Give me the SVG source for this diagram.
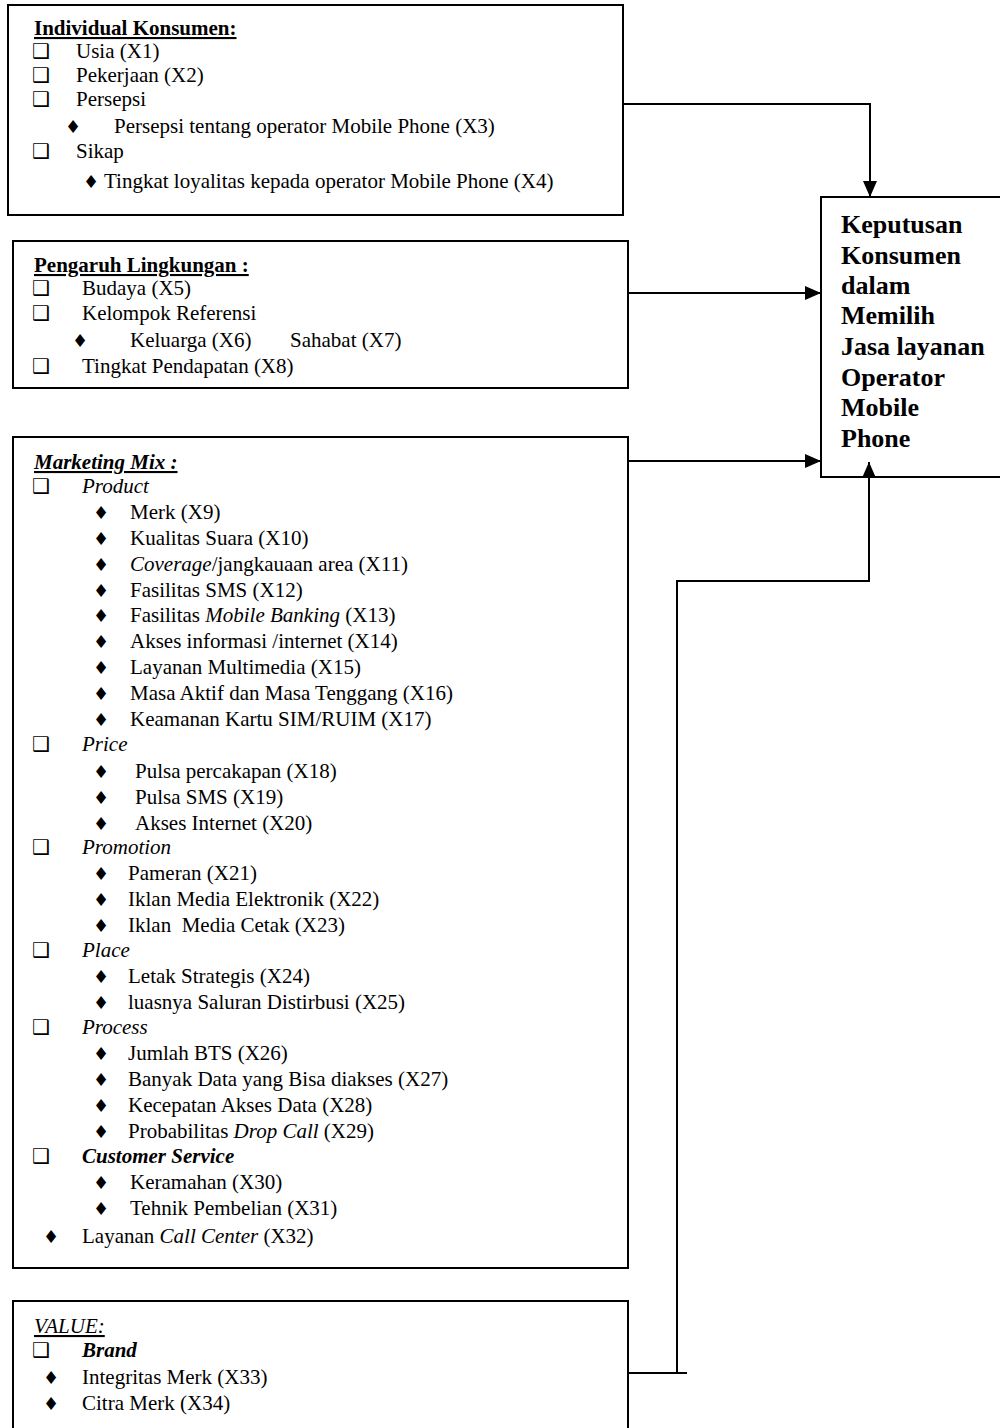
<svg xmlns="http://www.w3.org/2000/svg" width="1000" height="1428" viewBox="0 0 1000 1428">
<style>
.box{fill:#fff;stroke:#000;stroke-width:2}
.t{font-family:"Liberation Serif","Times New Roman",serif;font-size:21px;fill:#000}
.h{font-weight:bold;text-decoration:underline}
.i{font-style:italic}
.bi{font-style:italic;font-weight:bold}
.cb{font-family:"DejaVu Sans",sans-serif;font-size:20px;fill:#000}
.dm{font-family:"DejaVu Sans",sans-serif;font-size:18px;fill:#000}
.big{font-family:"Liberation Serif","Times New Roman",serif;font-size:26px;font-weight:bold;fill:#000}
.c{fill:none;stroke:#000;stroke-width:2}
</style>
<defs>
<marker id="ah" markerUnits="userSpaceOnUse" viewBox="0 0 16 14" markerWidth="16" markerHeight="14" refX="16" refY="7" orient="auto">
<path d="M0,0 L16,7 L0,14 z" fill="#000"/>
</marker>
</defs>

<g id="individual">
<rect class="box" x="8" y="5" width="615" height="210"/>
<text class="t h" x="34" y="35">Individual Konsumen:</text>
<text class="cb" x="32" y="58">❑</text><text class="t" x="76" y="58">Usia (X1)</text>
<text class="cb" x="32" y="82">❑</text><text class="t" x="76" y="82">Pekerjaan (X2)</text>
<text class="cb" x="32" y="106">❑</text><text class="t" x="76" y="106">Persepsi</text>
<text class="dm" x="65" y="133">♦</text><text class="t" x="114" y="133">Persepsi tentang operator Mobile Phone (X3)</text>
<text class="cb" x="32" y="158">❑</text><text class="t" x="76" y="158">Sikap</text>
<text class="dm" x="83" y="188">♦</text><text class="t" x="104" y="188">Tingkat loyalitas kepada operator Mobile Phone (X4)</text>
</g>

<g id="lingkungan">
<rect class="box" x="13" y="241" width="615" height="147"/>
<text class="t h" x="34" y="272">Pengaruh Lingkungan :</text>
<text class="cb" x="32" y="295">❑</text><text class="t" x="82" y="295">Budaya (X5)</text>
<text class="cb" x="32" y="320">❑</text><text class="t" x="82" y="320">Kelompok Referensi</text>
<text class="dm" x="72" y="347">♦</text><text class="t" x="130" y="347">Keluarga (X6)</text><text class="t" x="290" y="347">Sahabat (X7)</text>
<text class="cb" x="32" y="373">❑</text><text class="t" x="82" y="373">Tingkat Pendapatan (X8)</text>
</g>

<g id="marketing-mix">
<rect class="box" x="13" y="437" width="615" height="831"/>
<text class="t h bi" x="34" y="469">Marketing Mix :</text>
<text class="cb" x="32" y="493">❑</text><text class="t i" x="82" y="493">Product</text>
<text class="dm" x="93" y="519">♦</text><text class="t" x="130" y="519">Merk (X9)</text>
<text class="dm" x="93" y="545">♦</text><text class="t" x="130" y="545">Kualitas Suara (X10)</text>
<text class="dm" x="93" y="571">♦</text><text class="t" x="130" y="571"><tspan class="i">Coverage</tspan>/jangkauaan area (X11)</text>
<text class="dm" x="93" y="597">♦</text><text class="t" x="130" y="597">Fasilitas SMS (X12)</text>
<text class="dm" x="93" y="622">♦</text><text class="t" x="130" y="622">Fasilitas <tspan class="i">Mobile Banking</tspan> (X13)</text>
<text class="dm" x="93" y="648">♦</text><text class="t" x="130" y="648">Akses informasi /internet (X14)</text>
<text class="dm" x="93" y="674">♦</text><text class="t" x="130" y="674">Layanan Multimedia (X15)</text>
<text class="dm" x="93" y="700">♦</text><text class="t" x="130" y="700">Masa Aktif dan Masa Tenggang (X16)</text>
<text class="dm" x="93" y="726">♦</text><text class="t" x="130" y="726">Keamanan Kartu SIM/RUIM (X17)</text>
<text class="cb" x="32" y="751">❑</text><text class="t i" x="82" y="751">Price</text>
<text class="dm" x="93" y="778">♦</text><text class="t" x="135" y="778">Pulsa percakapan (X18)</text>
<text class="dm" x="93" y="804">♦</text><text class="t" x="135" y="804">Pulsa SMS (X19)</text>
<text class="dm" x="93" y="830">♦</text><text class="t" x="135" y="830">Akses Internet (X20)</text>
<text class="cb" x="32" y="854">❑</text><text class="t i" x="82" y="854">Promotion</text>
<text class="dm" x="93" y="880">♦</text><text class="t" x="128" y="880">Pameran (X21)</text>
<text class="dm" x="93" y="906">♦</text><text class="t" x="128" y="906">Iklan Media Elektronik (X22)</text>
<text class="dm" x="93" y="932">♦</text><text class="t" x="128" y="932" xml:space="preserve">Iklan  Media Cetak (X23)</text>
<text class="cb" x="32" y="957">❑</text><text class="t i" x="82" y="957">Place</text>
<text class="dm" x="93" y="983">♦</text><text class="t" x="128" y="983">Letak Strategis (X24)</text>
<text class="dm" x="93" y="1009">♦</text><text class="t" x="128" y="1009">luasnya Saluran Distirbusi (X25)</text>
<text class="cb" x="32" y="1034">❑</text><text class="t i" x="82" y="1034">Process</text>
<text class="dm" x="93" y="1060">♦</text><text class="t" x="128" y="1060">Jumlah BTS (X26)</text>
<text class="dm" x="93" y="1086">♦</text><text class="t" x="128" y="1086">Banyak Data yang Bisa diakses (X27)</text>
<text class="dm" x="93" y="1112">♦</text><text class="t" x="128" y="1112">Kecepatan Akses Data (X28)</text>
<text class="dm" x="93" y="1138">♦</text><text class="t" x="128" y="1138">Probabilitas <tspan class="i">Drop Call</tspan> (X29)</text>
<text class="cb" x="32" y="1163">❑</text><text class="t bi" x="82" y="1163">Customer Service</text>
<text class="dm" x="93" y="1189">♦</text><text class="t" x="130" y="1189">Keramahan (X30)</text>
<text class="dm" x="93" y="1215">♦</text><text class="t" x="130" y="1215">Tehnik Pembelian (X31)</text>
<text class="dm" x="43" y="1243">♦</text><text class="t" x="82" y="1243">Layanan <tspan class="i">Call Center</tspan> (X32)</text>
</g>

<g id="value">
<rect class="box" x="13" y="1301" width="615" height="200"/>
<text class="t i" x="34" y="1333" text-decoration="underline">VALUE:</text>
<text class="cb" x="32" y="1357">❑</text><text class="t bi" x="82" y="1357">Brand</text>
<text class="dm" x="43" y="1384">♦</text><text class="t" x="82" y="1384">Integritas Merk (X33)</text>
<text class="dm" x="43" y="1410">♦</text><text class="t" x="82" y="1410">Citra Merk (X34)</text>
</g>

<g id="keputusan">
<rect class="box" x="821" y="197" width="190" height="280"/>
<text class="big" x="841" y="233">Keputusan</text>
<text class="big" x="841" y="264">Konsumen</text>
<text class="big" x="841" y="294">dalam</text>
<text class="big" x="841" y="324">Memilih</text>
<text class="big" x="841" y="355">Jasa layanan</text>
<text class="big" x="841" y="386">Operator</text>
<text class="big" x="841" y="416">Mobile</text>
<text class="big" x="841" y="447">Phone</text>
</g>

<g id="connectors">
<path class="c" d="M623,104 H870 V197" marker-end="url(#ah)"/>
<path class="c" d="M628,293 H821" marker-end="url(#ah)"/>
<path class="c" d="M628,461 H821" marker-end="url(#ah)"/>
<path class="c" d="M629,1373 H687"/>
<path class="c" d="M677,1373 V581 H869 V462" marker-end="url(#ah)"/>
</g>
</svg>
